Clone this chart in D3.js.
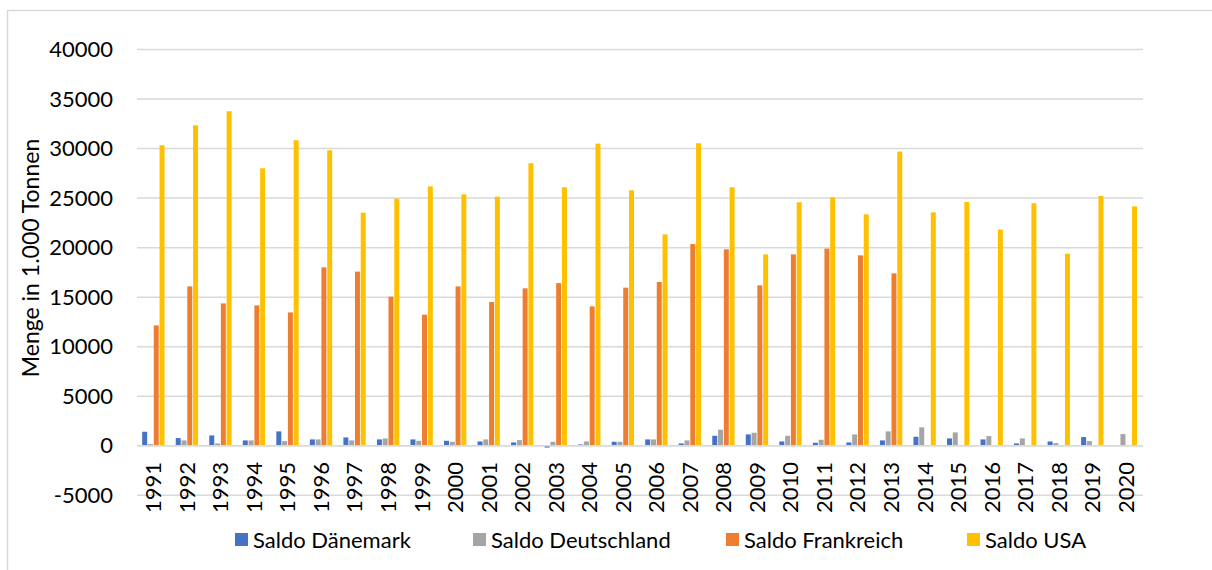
<!DOCTYPE html>
<html><head><meta charset="utf-8">
<script src="https://cdn.jsdelivr.net/npm/d3@7"></script>
<style>body{margin:0;background:#fff}svg{display:block}</style>
</head><body><svg id="c" width="1212" height="570"></svg>
<script>
const years = ["1991","1992","1993","1994","1995","1996","1997","1998","1999","2000","2001","2002","2003","2004","2005","2006","2007","2008","2009","2010","2011","2012","2013","2014","2015","2016","2017","2018","2019","2020"];
const seriesNames = ["Saldo Dänemark","Saldo Deutschland","Saldo Frankreich","Saldo USA"];
const colors = ["#4472C4","#A5A5A5","#ED7D31","#FFC000"];
const daenemark = [1415,775,1045,540,1450,640,840,640,640,505,438,337,-180,135,404,640,236,1011,1146,438,303,337,540,910,740,640,236,438,876,0];
const deutschland = [170,540,236,540,470,640,540,740,505,404,640,573,404,438,404,640,540,1618,1314,1011,607,1146,1450,1854,1348,977,740,270,470,1180];
const frankreich = [12150,16090,14370,14170,13460,18010,17580,15050,13230,16090,14510,15890,16420,14070,15960,16530,20360,19830,16190,19320,19900,19220,17400,0,0,0,0,0,0,0];
const usa = [30330,32350,33770,28010,30840,29830,23530,24950,26190,25380,25150,28520,26090,30500,25790,21340,30540,26090,19320,24580,25080,23360,29700,23560,24610,21820,24480,19390,25210,24170];
const yTicks = [-5000,0,5000,10000,15000,20000,25000,30000,35000,40000];
const allSeries = [daenemark, deutschland, frankreich, usa];

const font = "Lato, 'Open Sans', sans-serif";
const svg = d3.select("#c");
// outer border
svg.append("rect").attr("x",7.5).attr("y",10.5).attr("width",1215).attr("height",575)
  .attr("fill","none").attr("stroke","#d9d9d9").attr("stroke-width",1.5);

const L = 137, R = 1143;
const x = d3.scaleBand().domain(years).range([L, R]).paddingInner(0.31).paddingOuter(0.155);
const xs = d3.scaleBand().domain(d3.range(4)).range([0, x.bandwidth()]);
const y = d3.scaleLinear().domain([-5000, 40000]).range([495.3, 49.5]);

// gridlines
svg.append("g").selectAll("line").data(yTicks).join("line")
  .attr("x1", L).attr("x2", R).attr("y1", d=>y(d)).attr("y2", d=>y(d))
  .attr("stroke","#d9d9d9").attr("stroke-width",1.5);

// y tick labels
svg.append("g").selectAll("text").data(yTicks).join("text")
  .attr("x", 113).attr("y", d=>y(d)).attr("dy","0.35em").attr("text-anchor","end")
  .attr("font-family", font).attr("font-size", 22).attr("fill","#000").text(d=>d);

// bars
const g = svg.append("g");
years.forEach((yr, i) => {
  allSeries.forEach((s, k) => {
    const v = s[i];
    if (!v) return;
    g.append("rect")
      .attr("x", x(yr) + xs(k)).attr("width", xs.bandwidth() - 0.8)
      .attr("y", y(Math.max(0, v))).attr("height", Math.abs(y(v) - y(0)))
      .attr("fill", colors[k]);
  });
});

// zero axis line
svg.append("line").attr("x1", L).attr("x2", R).attr("y1", y(0)).attr("y2", y(0))
  .attr("stroke","#d9d9d9").attr("stroke-width",1.5);

// x labels
svg.append("g").selectAll("text").data(years).join("text")
  .attr("transform", d => `translate(${x(d) + x.bandwidth()/2 + 7.5},462) rotate(-90)`)
  .attr("text-anchor","end")
  .attr("font-family", font).attr("font-size", 22).attr("fill","#000").text(d=>d);

// y title
svg.append("text").attr("transform","translate(39,258) rotate(-90)")
  .attr("text-anchor","middle").attr("font-family", font).attr("font-size", 23)
  .attr("fill","#000").text("Menge in 1.000 Tonnen");

// legend
const legX = [235, 473, 726, 967];
const lg = svg.append("g");
seriesNames.forEach((n, k) => {
  lg.append("rect").attr("x", legX[k]).attr("y", 533).attr("width", 13).attr("height", 13).attr("fill", colors[k]);
  lg.append("text").attr("x", legX[k] + 18).attr("y", 540).attr("dy","0.35em")
    .attr("font-family", font).attr("font-size", 22).attr("fill","#000").text(n);
});
</script></body></html>
